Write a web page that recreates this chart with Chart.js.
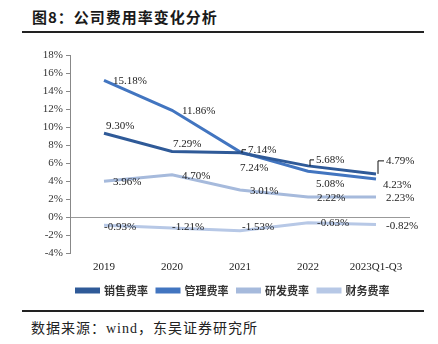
<!DOCTYPE html>
<html>
<head>
<meta charset="utf-8">
<script src="https://cdn.jsdelivr.net/npm/chart.js@4.4.0/dist/chart.umd.min.js"></script>
<style>
  html, body { margin: 0; padding: 0; background: #fff; }
  #page { position: relative; width: 438px; height: 344px; overflow: hidden; }
  #title {
    position: absolute; left: 32px; top: 6px;
    font: bold 15px "Noto Sans CJK SC", sans-serif; letter-spacing: 1px; color: #1a1a1a;
  }
  .rule { position: absolute; left: 22px; width: 402px; height: 2px; background: #222; }
  #source {
    position: absolute; left: 31px; top: 317px;
    font: 14px "Liberation Serif", "Noto Sans CJK SC", serif; letter-spacing: 1px; color: #222;
  }
  #wrap { position: absolute; left: 0; top: 0; width: 438px; height: 310px; }
</style>
</head>
<body>
<div id="page">
  <div id="title">图8：公司费用率变化分析</div>
  <div class="rule" style="top:31px"></div>
  <div id="wrap"><canvas id="chart"></canvas></div>
  <div class="rule" style="top:310px"></div>
  <div id="source">数据来源：wind，东吴证券研究所</div>
</div>
<script>
// data (%)
const years = ['2019', '2020', '2021', '2022', '2023Q1-Q3'];
const seriesNames = ['销售费率', '管理费率', '研发费率', '财务费率'];
const salesRate = [9.30, 7.29, 7.14, 5.68, 4.79];
const adminRate = [15.18, 11.86, 7.24, 5.08, 4.23];
const rdRate = [3.96, 4.70, 3.01, 2.22, 2.23];
const financeRate = [-0.93, -1.21, -1.53, -0.63, -0.82];

const colors = ['#2f5a98', '#4275c0', '#a6badc', '#b7c8e6'];

// label placement per series: [dx, dy] from the point, plus optional callout
const labelPos = [
  [[2, -7], [1, -7], [8, -3, true], [8, -6, true], [10, -13, true]],
  [[9, 1], [10, 1], [0, 16], [8, 13], [7, 6]],
  [[9, 1], [10, 1], [10, 1], [9, 1], [10, 1]],
  [[0, 2], [0, -1], [2, -4], [9, 0], [10, 2]]
];

const valueLabels = {
  id: 'valueLabels',
  afterLayout(chart) {
    // legend sits a bit right of the canvas centre in the original
    chart.legend.left += 28;
    chart.legend.right += 28;
  },
  afterDatasetsDraw(chart) {
    const ctx = chart.ctx;
    ctx.save();
    ctx.font = '11px "Liberation Serif", serif';
    ctx.fillStyle = '#222';
    ctx.textBaseline = 'middle';
    chart.data.datasets.forEach((ds, si) => {
      const meta = chart.getDatasetMeta(si);
      meta.data.forEach((pt, i) => {
        const [dx, dy, callout] = labelPos[si][i];
        const tx = pt.x + dx, ty = pt.y + dy;
        ctx.fillText(ds.data[i].toFixed(2) + '%', tx, ty);
        if (callout) {
          ctx.strokeStyle = '#111';
          ctx.lineWidth = 1;
          ctx.beginPath();
          ctx.moveTo(pt.x + 2, pt.y);
          ctx.lineTo(pt.x + 2, ty);
          ctx.lineTo(tx - 2, ty);
          ctx.stroke();
        }
      });
    });
    ctx.restore();
  }
};

const datasets = [salesRate, adminRate, rdRate, financeRate].map((d, i) => ({
  label: seriesNames[i],
  data: d,
  borderColor: colors[i],
  backgroundColor: colors[i],
  borderWidth: 3,
  pointRadius: 0,
  tension: 0
}));

new Chart(document.getElementById('chart'), {
  type: 'line',
  data: { labels: years, datasets },
  options: {
    responsive: true,
    maintainAspectRatio: false,
    animation: false,
    layout: { padding: { top: 55, right: 28, bottom: 4, left: 0 } },
    plugins: {
      tooltip: { enabled: false },
      legend: {
        position: 'bottom',
        labels: {
          boxWidth: 22,
          boxHeight: 3,
          padding: 9,
          color: '#333',
          font: { family: '"Noto Sans CJK SC", sans-serif', size: 11, weight: 'bold' }
        }
      }
    },
    scales: {
      x: {
        offset: true,
        grid: { display: false, drawTicks: false },
        border: { display: false },
        ticks: { padding: 8, color: '#222', font: { family: '"Liberation Serif", serif', size: 11 } },
        afterFit: s => { s.height = 23; }
      },
      y: {
        min: -4,
        max: 18,
        grid: {
          color: c => c.tick && c.tick.value === 0 ? '#999' : 'transparent',
          tickColor: '#888',
          tickLength: 4
        },
        border: { display: true, color: '#888' },
        ticks: {
          stepSize: 2,
          padding: 3,
          color: '#333',
          font: { family: '"Liberation Serif", serif', size: 11 },
          callback: v => v + '%'
        },
        afterFit: s => { s.width = 70; }
      }
    }
  },
  plugins: [valueLabels]
});
</script>
</body>
</html>
